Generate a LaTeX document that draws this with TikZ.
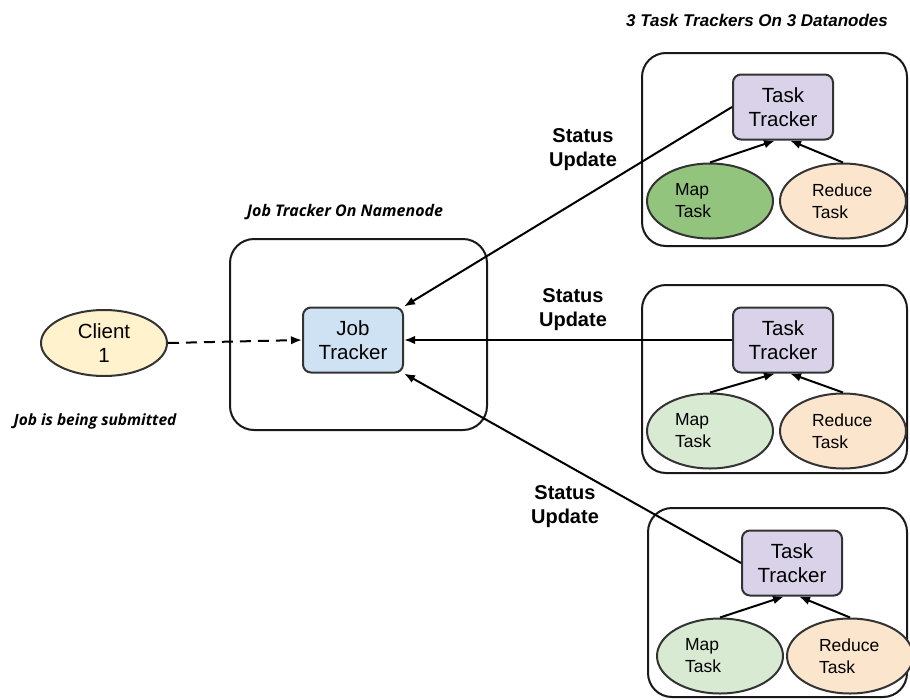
\documentclass[tikz,border=0pt]{standalone}
\usepackage{fontspec}
\setmainfont{Liberation Sans}
\newfontfamily\capfont{Open Sans}
\newfontfamily\capfontb{Liberation Sans}
\usetikzlibrary{shapes.geometric,arrows.meta}
\definecolor{jobblue}{HTML}{CFE2F3}
\definecolor{ttpurple}{HTML}{D9D2E9}
\definecolor{mapdark}{HTML}{93C47D}
\definecolor{maplight}{HTML}{D9EAD3}
\definecolor{redpeach}{HTML}{FCE5CD}
\definecolor{clientyel}{HTML}{FFF2CC}
\tikzset{
  container/.style={draw=black!90, line width=2pt, rounded corners=24pt},
  tracker/.style={draw=black!80, line width=2pt, rounded corners=8pt, minimum width=100pt, minimum height=65pt, align=center, font=\fontsize{20.5}{24}\selectfont, inner sep=0pt},
  task/.style={draw=black!80, line width=2pt, ellipse, minimum width=126pt, minimum height=75pt, font=\fontsize{17.5}{22}\selectfont, inner sep=0pt},
  maptask/.style={task, text width=70pt, align=left},
  redtask/.style={task, text width=62pt, align=left},
  statuslbl/.style={align=center, font=\bfseries\fontsize{20}{24}\selectfont},
  caption/.style={font=\capfont\bfseries\itshape\fontsize{16}{18}\selectfont},
  arr/.style={-{Latex[length=11pt,width=8.5pt]}, line width=2pt},
}
\begin{document}
\begin{tikzpicture}[x=1pt,y=-1pt]
\path[use as bounding box] (0,0) rectangle (910,699);
% containers
\draw[container] (230,239) rectangle (487,430);
\draw[container] (642,53) rectangle (907,246);
\draw[container] (642,285) rectangle (907,473);
\draw[container] (648,508) rectangle (907,697);
% captions
\node[font=\capfontb\bfseries\itshape\fontsize{17}{19}\selectfont] (cap1) at (757,20) {3 Task Trackers On 3 Datanodes};
\node[caption] (cap2) at (345,212) {Job Tracker On Namenode};
\node[caption, font=\capfont\bfseries\itshape\fontsize{15.5}{18}\selectfont] (cap3) at (95,421) {Job is being submitted};
% job tracker and client
\node[tracker, fill=jobblue] (j) at (353,340) {Job\\Tracker};
\node[task, fill=clientyel, align=center, minimum height=66pt, font=\fontsize{20.5}{24}\selectfont] (c) at (104,343) {Client\\1};
% datanode 1
\node[tracker, fill=ttpurple] (t1) at (783,107) {Task\\Tracker};
\node[maptask, fill=mapdark] (m1) at (710,201) {Map\\Task};
\node[redtask, fill=redpeach] (r1) at (843,201) {Reduce\\Task};
% datanode 2
\node[tracker, fill=ttpurple] (t2) at (783,340) {Task\\Tracker};
\node[maptask, fill=maplight] (m2) at (710,431) {Map\\Task};
\node[redtask, fill=redpeach] (r2) at (843,431) {Reduce\\Task};
% datanode 3
\node[tracker, fill=ttpurple] (t3) at (792,563) {Task\\Tracker};
\node[maptask, fill=maplight] (m3) at (720,656) {Map\\Task};
\node[redtask, fill=redpeach] (r3) at (850,656) {Reduce\\Task};
% status labels
\node[statuslbl] (s1) at (583,150) {Status\\Update};
\node[statuslbl] (s2) at (573,310) {Status\\Update};
\node[statuslbl] (s3) at (565,507) {Status\\Update};
% connectors
\draw[arr, dash pattern=on 11pt off 7pt] (c.east) -- (j.west);
\draw[arr] (t1.west) -- (j.north east);
\draw[arr] (t2.west) -- (j.east);
\draw[arr] (t3.west) -- (j.south east);
\foreach \i in {1,2,3}{
  \draw[arr] (m\i.north) -- ([xshift=-8pt]t\i.south);
  \draw[arr] (r\i.north) -- ([xshift=7pt]t\i.south);
}
\end{tikzpicture}
\end{document}
